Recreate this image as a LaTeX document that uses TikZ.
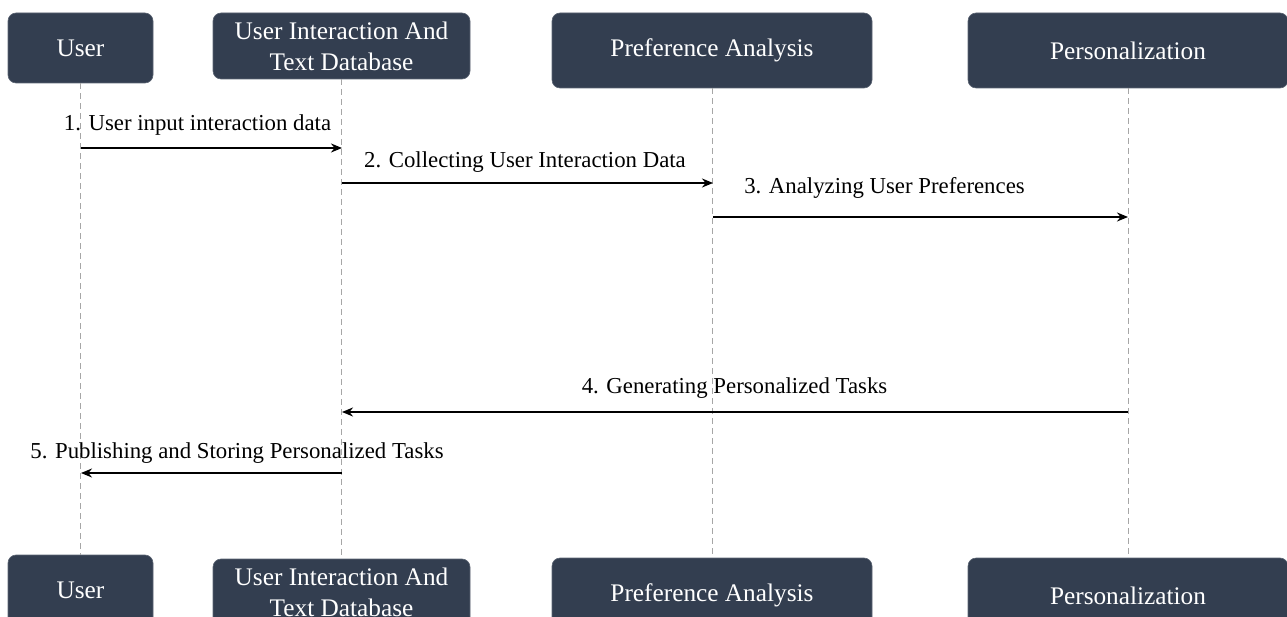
\documentclass[tikz,border=0pt]{standalone}
\usepackage{fontspec}
\setmainfont{Liberation Serif}
\usetikzlibrary{arrows.meta}
\definecolor{boxfill}{HTML}{333E50}
\definecolor{lifegray}{HTML}{A6A6A6}
\begin{document}
\begin{tikzpicture}[x=1pt,y=-1pt,
  actor/.style={draw=boxfill!80!white, line width=0.6pt, fill=boxfill, rounded corners=8pt, text=white, inner sep=0pt, align=center, font=\fontsize{25.3}{31}\selectfont},
  life/.style={draw=lifegray, line width=1pt, dash pattern=on 6pt off 4pt},
  msg/.style={draw=black, line width=2.8pt, -{Stealth[length=11pt,width=9pt]}},
  lbl/.style={anchor=base, inner sep=0pt, font=\fontsize{22.8}{27}\selectfont}]
\useasboundingbox (0,0) rectangle (1287,617);
% top actors
\node[actor, minimum width=145pt, minimum height=70pt] (uT) at (80.5,48) {User};
\node[actor, minimum width=257pt, minimum height=66pt] (dT) at (341.5,46) {User Interaction And\\Text Database};
\node[actor, minimum width=320pt, minimum height=75pt] (pT) at (712,50.5) {Preference Analysis};
\node[actor, minimum width=320pt, minimum height=75pt] (zT) at (1128,50.5) {Personalization};
% bottom actors
\node[actor, minimum width=145pt, minimum height=70pt] (uB) at (80.5,590) {User};
\node[actor, minimum width=257pt, minimum height=66pt] (dB) at (341.5,592) {User Interaction And\\Text Database};
\node[actor, minimum width=320pt, minimum height=75pt] (pB) at (712,595.5) {Preference Analysis};
\node[actor, minimum width=320pt, minimum height=75pt] (zB) at (1128,595.5) {Personalization};
% lifelines
\draw[life] (uT.south) -- (uB.north);
\draw[life] (dT.south) -- (dB.north);
\draw[life] (pT.south) -- (pB.north);
\draw[life] (zT.south) -- (zB.north);
% message anchor points
\coordinate (u1) at (81,148);  \coordinate (d1) at (342,148);
\coordinate (d2) at (342,183); \coordinate (p2) at (713,183);
\coordinate (p3) at (713,217); \coordinate (z3) at (1128,217);
\coordinate (z4) at (1128,412);\coordinate (d4) at (342,412);
\coordinate (d5) at (342,473); \coordinate (u5) at (81,473);
% messages
\draw[msg] (u1) -- (d1);
\draw[msg] (d2) -- (p2);
\draw[msg] (p3) -- (z3);
\draw[msg] (z4) -- (d4);
\draw[msg] (d5) -- (u5);
% labels
\node[lbl] (l1) at (197.5,131) {1. User input interaction data};
\node[lbl] (l2) at (525,168) {2. Collecting User Interaction Data};
\node[lbl] (l3) at (884.5,194) {3. Analyzing User Preferences};
\node[lbl] (l4) at (734.5,393) {4. Generating Personalized Tasks};
\node[lbl] (l5) at (237,458) {5. Publishing and Storing Personalized Tasks};
\end{tikzpicture}
\end{document}
